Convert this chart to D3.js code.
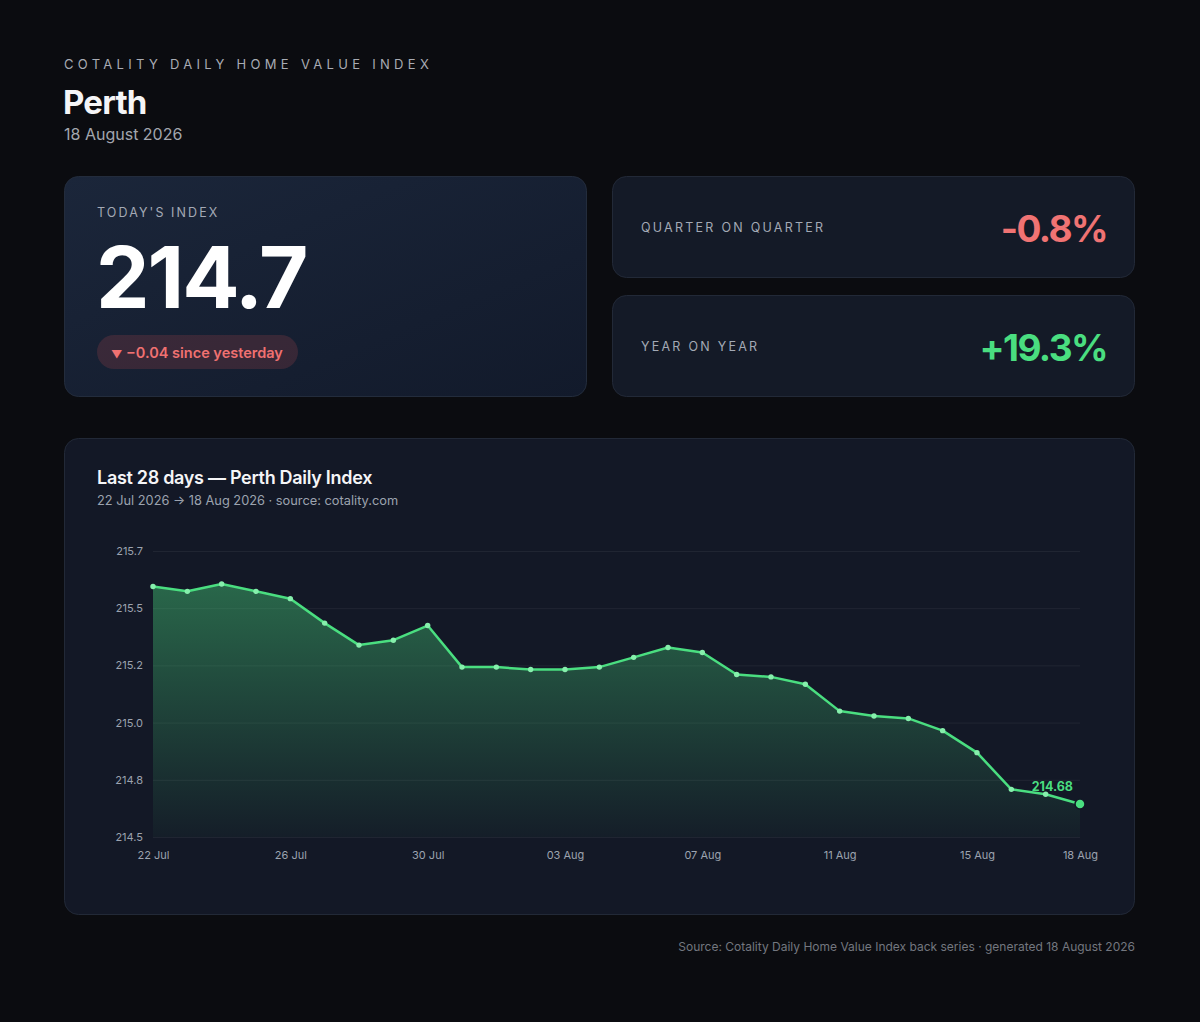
<!DOCTYPE html>
<html>
<head>
<meta charset="utf-8">
<script src="https://cdn.jsdelivr.net/npm/d3@7"></script>
<style>
  html, body { margin: 0; padding: 0; background: #0b0c10; }
  svg { display: block; font-family: Inter, "Noto Sans", sans-serif; }
</style>
</head>
<body>
<svg id="page" width="1200" height="1022"></svg>
<script>
// data
const dates = ["2026-07-22","2026-07-23","2026-07-24","2026-07-25","2026-07-26","2026-07-27","2026-07-28",
  "2026-07-29","2026-07-30","2026-07-31","2026-08-01","2026-08-02","2026-08-03","2026-08-04",
  "2026-08-05","2026-08-06","2026-08-07","2026-08-08","2026-08-09","2026-08-10","2026-08-11",
  "2026-08-12","2026-08-13","2026-08-14","2026-08-15","2026-08-16","2026-08-17","2026-08-18"];
const values = [215.57, 215.55, 215.58, 215.55, 215.52, 215.42, 215.33,
  215.35, 215.41, 215.24, 215.24, 215.23, 215.23, 215.24,
  215.28, 215.32, 215.30, 215.21, 215.20, 215.17, 215.06,
  215.04, 215.03, 214.98, 214.89, 214.74, 214.72, 214.68];
const xTickDates = ["2026-07-22","2026-07-26","2026-07-30","2026-08-03","2026-08-07","2026-08-11","2026-08-15","2026-08-18"];
const yTickCount = 6;

const todayIndex = "214.7";
const dayChange = "\u22120.04 since yesterday";
const qoq = "-0.8%";
const yoy = "+19.3%";

const parse = d3.timeParse("%Y-%m-%d");
const data = dates.map((d, i) => ({ date: parse(d), value: values[i] }));

const svg = d3.select('#page');
const defs = svg.append('defs');

const heroGrad = defs.append('linearGradient').attr('id', 'hero')
  .attr('x1', 0).attr('y1', 0).attr('x2', 1).attr('y2', 1);
heroGrad.append('stop').attr('offset', 0).attr('stop-color', '#1b263a');
heroGrad.append('stop').attr('offset', 1).attr('stop-color', '#121a2b');

// header
svg.append('text').text('COTALITY DAILY HOME VALUE INDEX')
  .attr('x', 64).attr('y', 69)
  .style('font-size', '13px').style('letter-spacing', '4.3px')
  .style('fill', '#a8abb3');
svg.append('text').text('Perth')
  .attr('x', 63).attr('y', 114)
  .style('font-size', '33px').style('font-weight', 700).style('letter-spacing', '-0.8px')
  .style('fill', '#f5f5f7');
svg.append('text').text('18 August 2026')
  .attr('x', 64).attr('y', 140)
  .style('font-size', '16px')
  .style('fill', '#a3a6ae');

// hero card
svg.append('rect').attr('x', 64.5).attr('y', 176.5).attr('width', 522).attr('height', 220).attr('rx', 14)
  .attr('fill', 'url(#hero)').attr('stroke', '#232c3c');
svg.append('text').text("TODAY'S INDEX")
  .attr('x', 97).attr('y', 217)
  .style('font-size', '12.5px').style('letter-spacing', '2.1px')
  .style('fill', '#a3a9b5');
svg.append('text').text(todayIndex)
  .attr('x', 96).attr('y', 308)
  .style('font-size', '85px').style('font-weight', 700).style('letter-spacing', '-2px')
  .style('fill', '#ffffff');
svg.append('rect').attr('x', 97).attr('y', 335).attr('width', 201).attr('height', 34).attr('rx', 17)
  .attr('fill', 'rgba(239, 90, 90, 0.16)');
const pill = svg.append('text')
  .attr('x', 111).attr('y', 357.5)
  .style('font-size', '14.5px').style('font-weight', 600)
  .style('fill', '#f07171');
pill.append('tspan').text('\u25BC').style('font-size', '11px');
pill.append('tspan').text(' ' + dayChange);

// stat cards
const stats = [
  { label: 'QUARTER ON QUARTER', value: qoq, color: '#f07373', y: 176 },
  { label: 'YEAR ON YEAR', value: yoy, color: '#4ade80', y: 295 }
];
stats.forEach(s => {
  svg.append('rect').attr('x', 612.5).attr('y', s.y + 0.5).attr('width', 522).attr('height', 101).attr('rx', 14)
    .attr('fill', '#141a27').attr('stroke', '#222937');
  svg.append('text').text(s.label)
    .attr('x', 641).attr('y', s.y + 56)
    .style('font-size', '12.5px').style('letter-spacing', '2.25px')
    .style('fill', '#a3a9b5');
  svg.append('text').text(s.value)
    .attr('x', 1107).attr('y', s.y + 66).attr('text-anchor', 'end')
    .style('font-size', '37px').style('font-weight', 700).style('letter-spacing', '-1.6px')
    .style('fill', s.color);
});

// chart card
const card = svg.append('g').attr('transform', 'translate(64,438)');
card.append('rect').attr('x', 0.5).attr('y', 0.5).attr('width', 1070).attr('height', 476).attr('rx', 14)
  .attr('fill', '#131826').attr('stroke', '#222937');
card.append('text').text('Last 28 days \u2014 Perth Daily Index')
  .attr('x', 33).attr('y', 46)
  .style('font-size', '18px').style('font-weight', 600).style('letter-spacing', '-0.3px')
  .style('fill', '#f5f5f7');
card.append('text').text('22 Jul 2026 \u2192 18 Aug 2026 \u00B7 source: cotality.com')
  .attr('x', 33).attr('y', 67)
  .style('font-size', '12.8px')
  .style('fill', '#9ca3af');

const plot = { left: 89, right: 1016, top: 113, bottom: 399 };
const lo = d3.min(values), hi = d3.max(values), pad = (hi - lo) * 0.15;
const yDomain = [lo - pad, hi + pad];

const x = d3.scaleTime()
  .domain(d3.extent(data, d => d.date))
  .range([plot.left, plot.right]);
const y = d3.scaleLinear()
  .domain(yDomain)
  .range([plot.bottom, plot.top]);

const yTicks = d3.range(yTickCount).map(i => yDomain[0] + i * (yDomain[1] - yDomain[0]) / (yTickCount - 1));

// grid + y labels
const yAxis = card.append('g')
  .attr('transform', `translate(${plot.left},0)`)
  .call(d3.axisLeft(y).tickValues(yTicks).tickFormat(d3.format('.1f'))
    .tickSize(-(plot.right - plot.left)).tickPadding(10));
yAxis.select('.domain').remove();
yAxis.selectAll('.tick line').attr('stroke', '#ffffff').attr('stroke-opacity', 0.06);
yAxis.selectAll('.tick text')
  .style('font-family', 'Inter, sans-serif').style('font-size', '11px').style('fill', '#9ca3af');

const xAxis = card.append('g')
  .attr('transform', `translate(0,${plot.bottom})`)
  .call(d3.axisBottom(x).tickValues(xTickDates.map(parse)).tickFormat(d3.timeFormat('%d %b'))
    .tickSize(0).tickPadding(14));
xAxis.select('.domain').remove();
xAxis.selectAll('.tick text')
  .style('font-family', 'Inter, sans-serif').style('font-size', '11px').style('fill', '#9ca3af');

// area, gradient in the card's own coordinates
const areaGrad = defs.append('linearGradient').attr('id', 'areaFill')
  .attr('gradientUnits', 'userSpaceOnUse')
  .attr('x1', 0).attr('x2', 0)
  .attr('y1', y(hi)).attr('y2', plot.bottom);
areaGrad.append('stop').attr('offset', 0).attr('stop-color', '#4ade80').attr('stop-opacity', 0.4);
areaGrad.append('stop').attr('offset', 1).attr('stop-color', '#4ade80').attr('stop-opacity', 0.03);

card.append('path').datum(data)
  .attr('fill', 'url(#areaFill)')
  .attr('d', d3.area().x(d => x(d.date)).y0(plot.bottom).y1(d => y(d.value)));

card.append('path').datum(data)
  .attr('fill', 'none').attr('stroke', '#4ade80').attr('stroke-width', 2.5)
  .attr('stroke-linejoin', 'round')
  .attr('d', d3.line().x(d => x(d.date)).y(d => y(d.value)));

card.selectAll('circle.pt')
  .data(data.slice(0, -1))
  .join('circle')
  .attr('class', 'pt')
  .attr('cx', d => x(d.date)).attr('cy', d => y(d.value))
  .attr('r', 2.7).attr('fill', '#86efac');

const last = data[data.length - 1];
card.append('circle')
  .attr('cx', x(last.date)).attr('cy', y(last.value))
  .attr('r', 5).attr('fill', '#4ade80').attr('stroke', '#131826').attr('stroke-width', 1.5);
card.append('text').text(d3.format('.2f')(last.value))
  .attr('x', x(last.date) - 7).attr('y', y(last.value) - 13.5).attr('text-anchor', 'end')
  .style('font-size', '12.5px').style('font-weight', 700)
  .style('fill', '#4ade80');

// footer
svg.append('text').text('Source: Cotality Daily Home Value Index back series \u00B7 generated 18 August 2026')
  .attr('x', 1135).attr('y', 951).attr('text-anchor', 'end')
  .style('font-size', '12px')
  .style('fill', '#73777f');
</script>
</body>
</html>
